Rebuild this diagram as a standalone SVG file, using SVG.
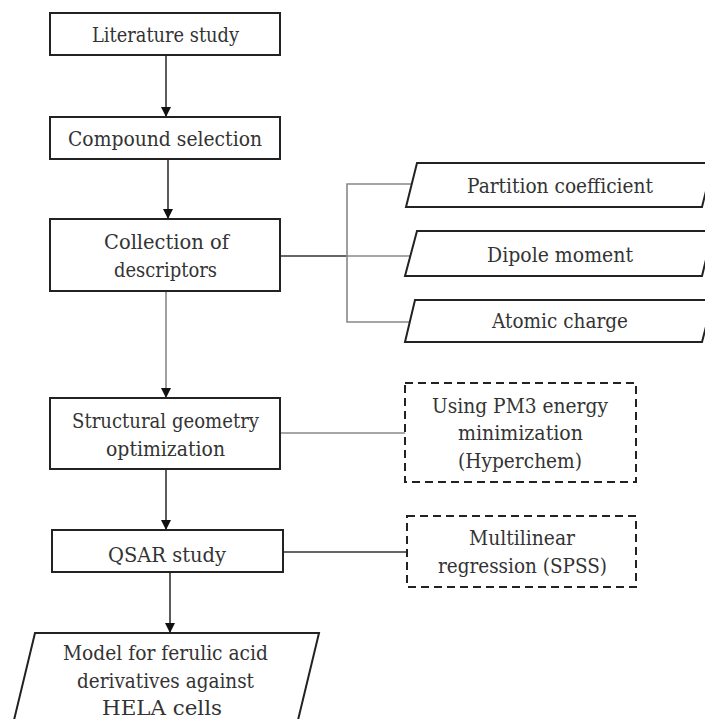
<svg xmlns="http://www.w3.org/2000/svg" width="705" height="719" viewBox="0 0 705 719">
<style>
.box{fill:#fff;stroke:#222;stroke-width:2}
.dash{fill:#fff;stroke:#222;stroke-width:2;stroke-dasharray:8 5}
.t{font-family:"DejaVu Serif","Liberation Serif",serif;font-size:21px;fill:#333;text-anchor:middle}
.c{stroke:#333;stroke-width:1.6;fill:none}
.g{stroke:#888;stroke-width:1.6;fill:none}
</style>
<defs>
<marker id="arr" markerWidth="10" markerHeight="10" refX="9" refY="5" orient="auto" markerUnits="userSpaceOnUse">
<path d="M0,0 L10,5 L0,10 Z" fill="#111"/>
</marker>
</defs>
<rect width="705" height="719" fill="#fff"/>
<g id="connectors">
<line class="c" x1="166" y1="55" x2="166" y2="116" marker-end="url(#arr)"/>
<line class="c" x1="168" y1="159" x2="168" y2="218" marker-end="url(#arr)"/>
<line class="g" x1="166" y1="291" x2="166" y2="397" marker-end="url(#arr)"/>
<line class="c" x1="166" y1="469" x2="166" y2="529" marker-end="url(#arr)"/>
<line class="c" x1="170" y1="572" x2="170" y2="632" marker-end="url(#arr)"/>
<line class="c" x1="280" y1="256" x2="347" y2="256"/>
<polyline class="g" points="414,184 347,184 347,322 410,322"/>
<line class="g" x1="347" y1="256" x2="411" y2="256"/>
<line class="g" x1="280" y1="433" x2="405" y2="433"/>
<line class="c" x1="283" y1="552" x2="407" y2="552"/>
</g>
<g id="n1"><rect class="box" x="50" y="13" width="230" height="42"/><text class="t" x="165.5" y="42" textLength="147" lengthAdjust="spacingAndGlyphs">Literature study</text></g>
<g id="n2"><rect class="box" x="50" y="117" width="230" height="42"/><text class="t" x="165" y="146" textLength="194" lengthAdjust="spacingAndGlyphs">Compound selection</text></g>
<g id="n3"><rect class="box" x="50" y="219" width="230" height="72"/><text class="t" x="166.5" y="249" textLength="125" lengthAdjust="spacingAndGlyphs">Collection of</text><text class="t" x="165.5" y="277" textLength="103" lengthAdjust="spacingAndGlyphs">descriptors</text></g>
<g id="n4"><rect class="box" x="50" y="398" width="230" height="71"/><text class="t" x="165.5" y="428" textLength="187" lengthAdjust="spacingAndGlyphs">Structural geometry</text><text class="t" x="165.5" y="456" textLength="119" lengthAdjust="spacingAndGlyphs">optimization</text></g>
<g id="n5"><rect class="box" x="52" y="530" width="231" height="42"/><text class="t" x="167" y="562" textLength="118" lengthAdjust="spacingAndGlyphs">QSAR study</text></g>
<g id="n6"><polygon class="box" points="35,633 319,633 292,745 8,745"/><text class="t" x="165.5" y="660" textLength="205" lengthAdjust="spacingAndGlyphs">Model for ferulic acid</text><text class="t" x="165.5" y="688" textLength="177" lengthAdjust="spacingAndGlyphs">derivatives against</text><text class="t" x="162" y="715" textLength="120" lengthAdjust="spacingAndGlyphs">HELA cells</text></g>
<g id="p1"><polygon class="box" points="417,163 713,163 702,207 406,207"/><text class="t" x="560" y="193" textLength="186" lengthAdjust="spacingAndGlyphs">Partition coefficient</text></g>
<g id="p2"><polygon class="box" points="417,231 713,231 702,276 405,276"/><text class="t" x="560" y="262" textLength="146" lengthAdjust="spacingAndGlyphs">Dipole moment</text></g>
<g id="p3"><polygon class="box" points="415,300 713,300 702,342 405,342"/><text class="t" x="560" y="328" textLength="136" lengthAdjust="spacingAndGlyphs">Atomic charge</text></g>
<g id="d1"><rect class="dash" x="405" y="383" width="231" height="99"/><text class="t" x="520" y="413" textLength="176" lengthAdjust="spacingAndGlyphs">Using PM3 energy</text><text class="t" x="520.5" y="440" textLength="125" lengthAdjust="spacingAndGlyphs">minimization</text><text class="t" x="520" y="468" textLength="124" lengthAdjust="spacingAndGlyphs">(Hyperchem)</text></g>
<g id="d2"><rect class="dash" x="407" y="516" width="229" height="71"/><text class="t" x="522" y="545" textLength="106" lengthAdjust="spacingAndGlyphs">Multilinear</text><text class="t" x="522.5" y="573" textLength="169" lengthAdjust="spacingAndGlyphs">regression (SPSS)</text></g>
</svg>
